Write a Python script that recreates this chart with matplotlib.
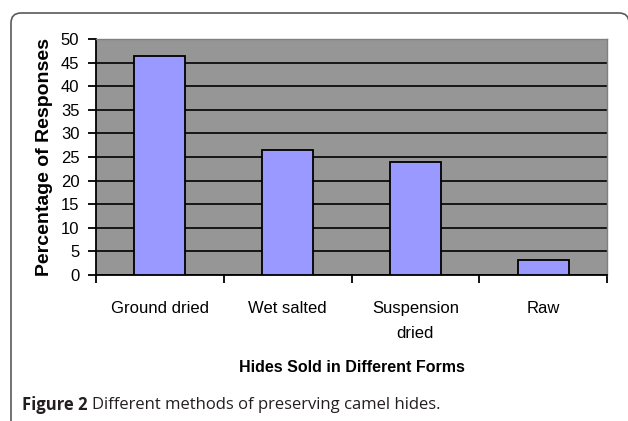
import matplotlib.pyplot as plt
from matplotlib.patches import FancyBboxPatch

# data
categories = ["Ground dried", "Wet salted", "Suspension\ndried", "Raw"]
values = [46.4, 26.5, 24.0, 3.1]
yticks = [0, 5, 10, 15, 20, 25, 30, 35, 40, 45, 50]

W, H = 628, 421
fig = plt.figure(figsize=(W / 100, H / 100), dpi=100)
fig.patch.set_facecolor("white")

# rounded frame around the chart (in inches)
frame = FancyBboxPatch((0.11, -0.5), 6.18, (H - 13) / 100 + 0.5,
                       boxstyle="round,pad=0,rounding_size=0.1",
                       transform=fig.dpi_scale_trans, facecolor="none",
                       edgecolor="#5a5a5a", linewidth=1.2, clip_on=False)
fig.patches.append(frame)

ax = fig.add_axes([96 / W, 1 - 275 / H, (607 - 96) / W, (275 - 39) / H])
ax.set_facecolor("#969696")

x = list(range(len(categories)))
ax.bar(x, values, width=0.4, color="#9999ff", edgecolor="black", linewidth=1.3, zorder=3)

ax.set_xlim(-0.5, len(categories) - 0.5)
ax.set_ylim(0, 50)
ax.set_yticks(yticks)
ax.set_yticklabels([str(t) for t in yticks], fontsize=12, family="Liberation Sans")
ax.yaxis.grid(True, color="black", linewidth=1.2, zorder=1)
ax.set_axisbelow(True)

# category ticks between bars, labels centered under bars
ax.set_xticks([i - 0.5 for i in range(len(categories) + 1)])
ax.set_xticklabels([])
ax.set_xticks(x, minor=True)
ax.set_xticklabels(categories, minor=True, fontsize=12, family="Liberation Sans",
                   linespacing=1.8, va="top")
ax.tick_params(axis="x", which="minor", length=0, pad=19)
ax.tick_params(axis="x", which="major", length=6, width=1.3, direction="out")
ax.tick_params(axis="y", length=6, width=1.3, direction="out", pad=6)

for s in ["left", "bottom"]:
    ax.spines[s].set_color("black")
    ax.spines[s].set_linewidth(1.3)
for s in ["top", "right"]:
    ax.spines[s].set_color("#808080")
    ax.spines[s].set_linewidth(1.0)

ax.set_ylabel("Percentage of Responses", fontsize=14, fontweight="bold",
              family="Liberation Sans")
ax.yaxis.set_label_coords(-(96 - 45) / (607 - 96), 0.5)
ax.yaxis.label.set_va("center")
ax.set_xlabel("Hides Sold in Different Forms", fontsize=11.5, fontweight="bold",
              family="Liberation Sans")
ax.xaxis.set_label_coords(0.5, -(368 - 275) / (275 - 39))
ax.xaxis.label.set_va("center")

# caption
fig.text(22 / W, 1 - 405 / H, "Figure 2", fontsize=12, fontweight="bold",
         color="#231f20", family="Open Sans", va="center")
fig.text(92 / W, 1 - 405 / H, "Different methods of preserving camel hides.",
         fontsize=12, color="#231f20", family="Open Sans", va="center")

fig.savefig("out.png", dpi=100)
